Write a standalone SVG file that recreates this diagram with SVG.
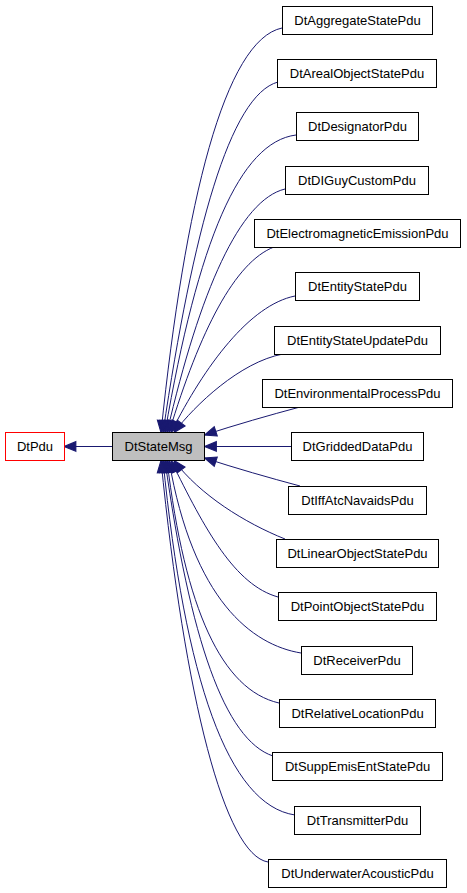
<svg xmlns="http://www.w3.org/2000/svg" width="467" height="893" viewBox="0 0 467 893">
<style>
.node rect{fill:#ffffff;stroke:#000000;stroke-width:1}
.node text{font-family:"Liberation Sans",Arial,sans-serif;font-size:13px;fill:#000000;text-anchor:middle}
#edges path{fill:none;stroke:#191970;stroke-width:1;marker-end:url(#arr)}
</style>
<defs>
<marker id="arr" markerUnits="userSpaceOnUse" markerWidth="14" markerHeight="12" viewBox="-1 -1 13 11" refX="11" refY="4.5" orient="auto" overflow="visible">
<path d="M0,0 L11,4.5 L0,9 z" fill="#191970" stroke="#191970" stroke-width="1"/>
</marker>
</defs>
<rect width="467" height="893" fill="#ffffff"/>
<g id="edges">
<path d="M112,446.5 L64,446.5"/>
<path d="M282,28 C225,40 185,200 161,432.5"/>
<path d="M278,82 C230,95 193,230 163,432.5"/>
<path d="M296,135 C240,142 198,240 165,432.5"/>
<path d="M285,189 C240,200 200,290 167,432.5"/>
<path d="M274,247 C235,262 200,330 169,432.5"/>
<path d="M295,296 C250,305 205,365 171,432.5"/>
<path d="M283,354 C240,362 195,405 174,432.5"/>
<path d="M300,407 C270,415 235,425 204.5,435"/>
<path d="M291,446.5 L204.5,446.5"/>
<path d="M300,486 C270,478 235,468 204.5,458"/>
<path d="M285,539 C245,523 200,495 174,460.5"/>
<path d="M278,597 C235,585 205,530 171,460.5"/>
<path d="M301,653 C252,645 193,600 169,460.5"/>
<path d="M279,703 C222,690 185,610 167,460.5"/>
<path d="M273,756 C225,740 190,640 165,460.5"/>
<path d="M295,815 C228,805 185,680 163,460.5"/>
<path d="M268,862 C225,855 185,700 161,460.5"/>
</g>
<g id="DtPdu" class="node"><rect x="5.5" y="432.5" width="59" height="28" style="stroke:#ff0000"/><text x="35" y="450.5">DtPdu</text></g>
<g id="DtStateMsg" class="node"><rect x="112.5" y="432.5" width="92" height="28" style="fill:#bfbfbf"/><text x="158.5" y="450.5">DtStateMsg</text></g>
<g id="DtAggregateStatePdu" class="node"><rect x="282.5" y="6.5" width="150" height="28"/><text x="357.5" y="24.5">DtAggregateStatePdu</text></g>
<g id="DtArealObjectStatePdu" class="node"><rect x="277.5" y="59.5" width="159" height="28"/><text x="357" y="77.5">DtArealObjectStatePdu</text></g>
<g id="DtDesignatorPdu" class="node"><rect x="296.5" y="112.5" width="122" height="28"/><text x="357.5" y="130.5">DtDesignatorPdu</text></g>
<g id="DtDIGuyCustomPdu" class="node"><rect x="285.5" y="166.5" width="143" height="28"/><text x="357" y="184.5">DtDIGuyCustomPdu</text></g>
<g id="DtElectromagneticEmissionPdu" class="node"><rect x="254.5" y="219.5" width="206" height="28"/><text x="357.5" y="237.5">DtElectromagneticEmissionPdu</text></g>
<g id="DtEntityStatePdu" class="node"><rect x="295.5" y="272.5" width="124" height="28"/><text x="357.5" y="290.5">DtEntityStatePdu</text></g>
<g id="DtEntityStateUpdatePdu" class="node"><rect x="274.5" y="326.5" width="166" height="28"/><text x="357.5" y="344.5">DtEntityStateUpdatePdu</text></g>
<g id="DtEnvironmentalProcessPdu" class="node"><rect x="262.5" y="379.5" width="190" height="28"/><text x="357.5" y="397.5">DtEnvironmentalProcessPdu</text></g>
<g id="DtGriddedDataPdu" class="node"><rect x="291.5" y="432.5" width="132" height="28"/><text x="357.5" y="450.5">DtGriddedDataPdu</text></g>
<g id="DtIffAtcNavaidsPdu" class="node"><rect x="288.5" y="486.5" width="138" height="28"/><text x="357.5" y="504.5">DtIffAtcNavaidsPdu</text></g>
<g id="DtLinearObjectStatePdu" class="node"><rect x="276.5" y="539.5" width="162" height="28"/><text x="357.5" y="557.5">DtLinearObjectStatePdu</text></g>
<g id="DtPointObjectStatePdu" class="node"><rect x="278.5" y="592.5" width="158" height="28"/><text x="357.5" y="610.5">DtPointObjectStatePdu</text></g>
<g id="DtReceiverPdu" class="node"><rect x="301.5" y="646.5" width="111" height="28"/><text x="357" y="664.5">DtReceiverPdu</text></g>
<g id="DtRelativeLocationPdu" class="node"><rect x="279.5" y="699.5" width="156" height="28"/><text x="357.5" y="717.5">DtRelativeLocationPdu</text></g>
<g id="DtSuppEmisEntStatePdu" class="node"><rect x="272.5" y="752.5" width="170" height="28"/><text x="357.5" y="770.5">DtSuppEmisEntStatePdu</text></g>
<g id="DtTransmitterPdu" class="node"><rect x="294.5" y="806.5" width="126" height="28"/><text x="357.5" y="824.5">DtTransmitterPdu</text></g>
<g id="DtUnderwaterAcousticPdu" class="node"><rect x="268.5" y="859.5" width="178" height="28"/><text x="357.5" y="877.5">DtUnderwaterAcousticPdu</text></g>
</svg>
